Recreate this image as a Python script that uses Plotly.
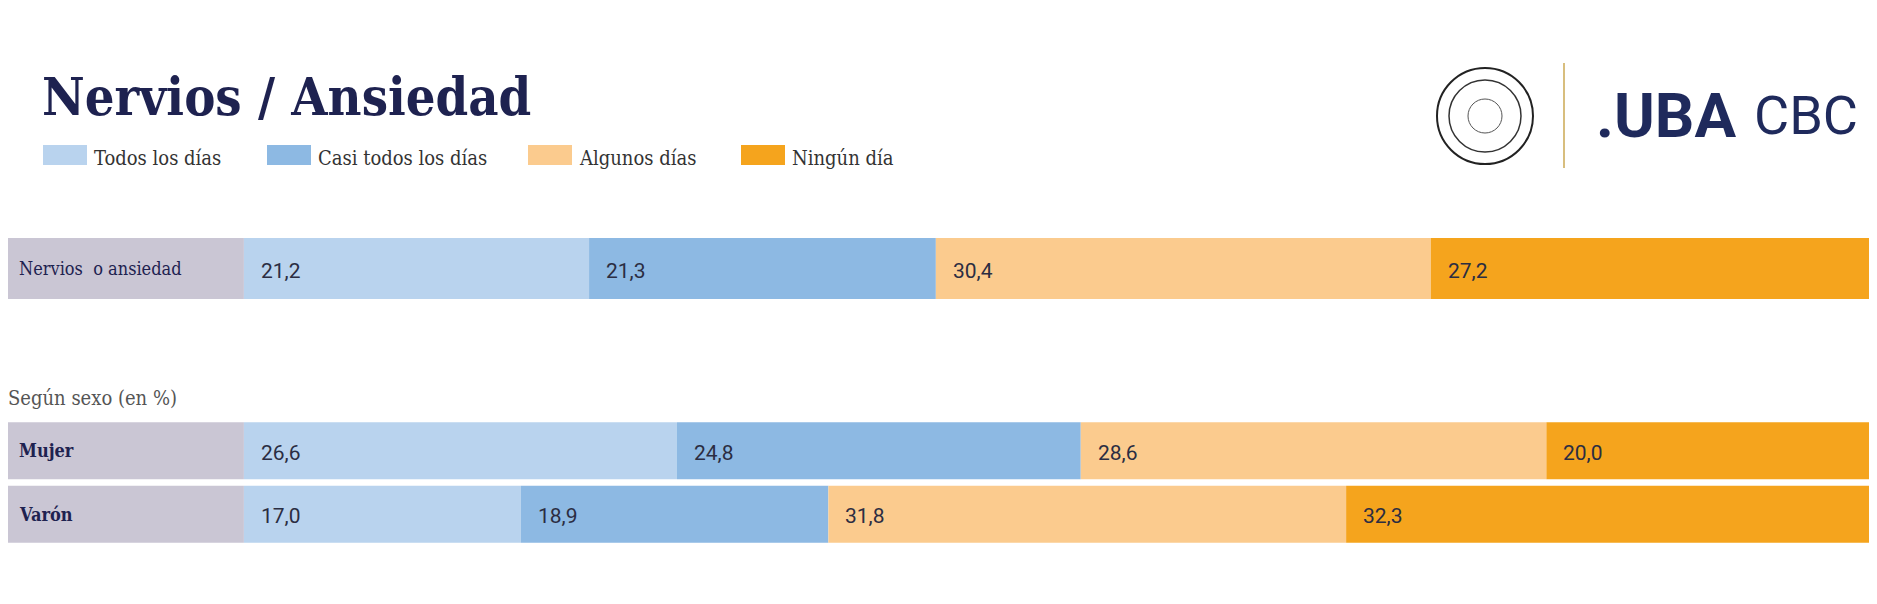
#############################################
########## Nervios / Ansiedad - stacked bars
#############################################
import plotly.graph_objects as go

##### Data #####
series_names = ['Todos los días', 'Casi todos los días', 'Algunos días', 'Ningún día']
series_colors = ['#B9D3EE', '#8DB9E3', '#FBCB8E', '#F5A41D']

total_label = ['Nervios  o ansiedad']
total_values = [21.2, 21.3, 30.4, 27.2]

sexo_labels = ['Mujer', 'Varón']
mujer_values = [26.6, 24.8, 28.6, 20.0]
varon_values = [17.0, 18.9, 31.8, 32.3]

##### Layout constants #####
OFF = 8                  # page body margin
W, H = 1877 - OFF, 604 - OFF
ML, MR = 0, 5
PLOT_W = W - ML - MR
LABEL_W = 14.49          # width of the grey label box, in % units
NAVY = '#1E2250'
TEXT_DARK = '#2B2D42'
SERIF_C = 'DejaVu Serif Condensed, DejaVu Serif, serif'


# reference pixel -> paper coordinates
def px2x(px):
	return (px - OFF - ML) / PLOT_W


def px2y(py):
	return 1 - (py - OFF) / H


def fmt(v):
	return '{:.1f}'.format(v).replace('.', ',')


fig = go.Figure()

# Grey label boxes
fig.add_trace(go.Bar(y=total_label, x=[LABEL_W], base=[-LABEL_W], orientation='h',
					 marker=dict(color='#CAC6D4', line=dict(width=0)), hoverinfo='skip',
					 showlegend=False, xaxis='x', yaxis='y'))
fig.add_trace(go.Bar(y=sexo_labels, x=[LABEL_W] * len(sexo_labels), base=[-LABEL_W] * len(sexo_labels),
					 orientation='h', marker=dict(color='#CAC6D4', line=dict(width=0)), hoverinfo='skip',
					 showlegend=False, xaxis='x2', yaxis='y2'))

annotations = []

# Stacked series
for i, name in enumerate(series_names):
	color = series_colors[i]
	# total row
	base_t = sum(total_values[:i])
	fig.add_trace(go.Bar(y=total_label, x=[total_values[i]], base=[base_t], orientation='h', name=name,
						 marker=dict(color=color, line=dict(width=0)), showlegend=False,
						 xaxis='x', yaxis='y'))
	annotations.append(dict(x=base_t, y=total_label[0], xref='x', yref='y', text=fmt(total_values[i]),
							xanchor='left', xshift=15, yshift=-2, showarrow=False,
							font=dict(family='Roboto', size=21, color=TEXT_DARK)))
	# sexo rows
	vals = [mujer_values[i], varon_values[i]]
	bases = [sum(mujer_values[:i]), sum(varon_values[:i])]
	fig.add_trace(go.Bar(y=sexo_labels, x=vals, base=bases, orientation='h', name=name,
						 marker=dict(color=color, line=dict(width=0)), showlegend=False,
						 xaxis='x2', yaxis='y2'))
	for lab, v, b in zip(sexo_labels, vals, bases):
		annotations.append(dict(x=b, y=lab, xref='x2', yref='y2', text=fmt(v),
								xanchor='left', xshift=15, yshift=-2, showarrow=False,
								font=dict(family='Roboto', size=21, color=TEXT_DARK)))

# Row labels
annotations.append(dict(x=-LABEL_W, y=total_label[0], xref='x', yref='y', text=total_label[0],
						xanchor='left', xshift=9, showarrow=False,
						font=dict(family=SERIF_C, size=18, color=NAVY)))
for lab in sexo_labels:
	annotations.append(dict(x=-LABEL_W, y=lab, xref='x2', yref='y2', text='<b>' + lab + '</b>',
							xanchor='left', xshift=9, showarrow=False,
							font=dict(family=SERIF_C, size=18, color=NAVY)))

# Title and subtitle
annotations.append(dict(x=px2x(40), y=px2y(96), xref='paper', yref='paper', text='<b>Nervios / Ansiedad</b>',
						xanchor='left', yanchor='middle', showarrow=False,
						font=dict(family=SERIF_C, size=52, color=NAVY)))
annotations.append(dict(x=px2x(6), y=px2y(398), xref='paper', yref='paper', text='Según sexo (en %)',
						xanchor='left', yanchor='middle', showarrow=False,
						font=dict(family=SERIF_C, size=20, color='#555555')))

# Manual legend
shapes = []
legend_box_x = [43, 267, 528, 741]
for i, name in enumerate(series_names):
	x0 = legend_box_x[i]
	shapes.append(dict(type='rect', xref='paper', yref='paper', x0=px2x(x0), x1=px2x(x0 + 44),
					   y0=px2y(165), y1=px2y(145), fillcolor=series_colors[i], line=dict(width=0)))
	annotations.append(dict(x=px2x(x0 + 49), y=px2y(158), xref='paper', yref='paper', text=name,
							xanchor='left', yanchor='middle', showarrow=False,
							font=dict(family=SERIF_C, size=20, color='#333333')))

# Logo: seal, divider, .UBA CBC
shapes.append(dict(type='circle', xref='paper', yref='paper', x0=px2x(1437), x1=px2x(1533),
				   y0=px2y(164), y1=px2y(68), line=dict(color='#222222', width=2)))
shapes.append(dict(type='circle', xref='paper', yref='paper', x0=px2x(1449), x1=px2x(1521),
				   y0=px2y(152), y1=px2y(80), line=dict(color='#333333', width=1.5)))
shapes.append(dict(type='circle', xref='paper', yref='paper', x0=px2x(1468), x1=px2x(1502),
				   y0=px2y(133), y1=px2y(99), line=dict(color='#555555', width=1)))
shapes.append(dict(type='line', xref='paper', yref='paper', x0=px2x(1564), x1=px2x(1564),
				   y0=px2y(168), y1=px2y(63), line=dict(color='#D8BE7E', width=2)))
annotations.append(dict(x=px2x(1594), y=px2y(116), xref='paper', yref='paper', text='<b>.UBA</b>',
						xanchor='left', yanchor='middle', showarrow=False,
						font=dict(family='Roboto', size=62, color='#1F2A5C')))
annotations.append(dict(x=px2x(1752), y=px2y(116), xref='paper', yref='paper', text='CBC',
						xanchor='left', yanchor='middle', showarrow=False,
						font=dict(family='Liberation Sans Narrow, Roboto', size=54, color='#1F2A5C')))

axis_common = dict(range=[-LABEL_W, 100], showgrid=False, zeroline=False, showticklabels=False,
				   fixedrange=True)
fig.update_layout(
	width=W, height=H,
	margin=dict(l=ML, r=MR, t=0, b=0),
	paper_bgcolor='white', plot_bgcolor='white',
	barmode='overlay', bargap=0.1,
	showlegend=False,
	xaxis=dict(domain=[0, 1], anchor='y', **axis_common),
	yaxis=dict(domain=[px2y(302.4), px2y(234.6)], anchor='x', showticklabels=False, showgrid=False,
			   zeroline=False),
	xaxis2=dict(domain=[0, 1], anchor='y2', **axis_common),
	yaxis2=dict(domain=[px2y(546), px2y(419)], anchor='x2', showticklabels=False, showgrid=False,
				zeroline=False, categoryorder='array', categoryarray=sexo_labels[::-1]),
	shapes=shapes,
	annotations=annotations,
)

fig.write_html('out.html')
